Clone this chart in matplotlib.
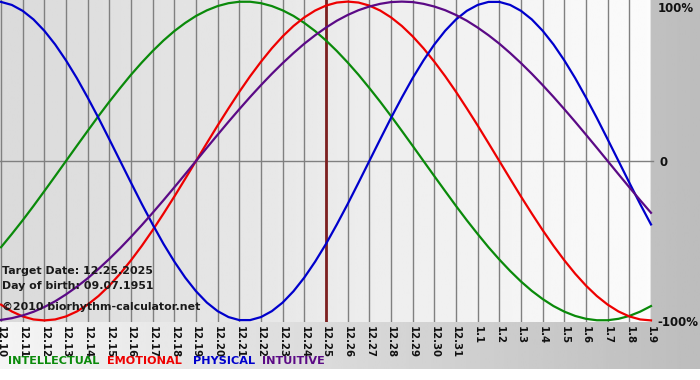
import matplotlib
matplotlib.use("Agg")
import matplotlib.pyplot as plt
import numpy as np

# day labels 12.10 .. 1.9
days = ["12.10", "12.11", "12.12", "12.13", "12.14", "12.15", "12.16", "12.17",
        "12.18", "12.19", "12.20", "12.21", "12.22", "12.23", "12.24", "12.25",
        "12.26", "12.27", "12.28", "12.29", "12.30", "12.31", "1.1", "1.2",
        "1.3", "1.4", "1.5", "1.6", "1.7", "1.8", "1.9"]

# cycle values (fraction of 100%) every half day
intellectual = [-0.541, -0.458, -0.372, -0.282, -0.189, -0.095,
                0.0, 0.095, 0.189, 0.282, 0.372, 0.458, 0.541, 0.618, 0.690, 0.756,
                0.815, 0.866, 0.910, 0.945, 0.972, 0.990, 0.999, 0.999, 0.990, 0.972,
                0.945, 0.910, 0.866, 0.815, 0.756, 0.690, 0.618, 0.541, 0.458, 0.372,
                0.282, 0.189, 0.095, 0.0, -0.095, -0.189, -0.282, -0.372, -0.458,
                -0.541, -0.618, -0.690, -0.756, -0.815, -0.866, -0.910, -0.945,
                -0.972, -0.990, -0.999, -0.999, -0.990, -0.972, -0.945, -0.910]
emotional = [-0.901, -0.944, -0.975, -0.994, -1.0, -0.994, -0.975, -0.944, -0.901,
             -0.847, -0.782, -0.707, -0.623, -0.532, -0.434, -0.330, -0.223, -0.112,
             0.0, 0.112, 0.223, 0.330, 0.434, 0.532, 0.623, 0.707, 0.782, 0.847,
             0.901, 0.944, 0.975, 0.994, 1.0, 0.994, 0.975, 0.944, 0.901, 0.847,
             0.782, 0.707, 0.623, 0.532, 0.434, 0.330, 0.223, 0.112, 0.0, -0.112,
             -0.223, -0.330, -0.434, -0.532, -0.623, -0.707, -0.782, -0.847, -0.901,
             -0.944, -0.975, -0.994, -1.0]
physical = [0.998, 0.979, 0.942, 0.888, 0.817, 0.731, 0.631, 0.520, 0.398, 0.270,
            0.136, 0.0, -0.136, -0.270, -0.398, -0.520, -0.631, -0.731, -0.817,
            -0.888, -0.942, -0.979, -0.998, -0.998, -0.979, -0.942, -0.888, -0.817,
            -0.731, -0.631, -0.520, -0.398, -0.270, -0.136,
            0.0, 0.136, 0.270, 0.398, 0.520, 0.631, 0.731, 0.817, 0.888, 0.942,
            0.979, 0.998, 0.998, 0.979, 0.942, 0.888, 0.817, 0.731, 0.631, 0.520,
            0.398, 0.270, 0.136, 0.0, -0.136, -0.270, -0.398]
intuitive = [-0.997, -0.986, -0.969, -0.946, -0.916, -0.880, -0.837, -0.789, -0.736,
             -0.677, -0.614, -0.547, -0.476, -0.402, -0.325, -0.246, -0.165, -0.083,
             0.0, 0.083, 0.165, 0.246, 0.325, 0.402, 0.476, 0.547, 0.614, 0.677,
             0.736, 0.789, 0.837, 0.880, 0.916, 0.946, 0.969, 0.986, 0.997, 1.0,
             0.997, 0.986, 0.969, 0.946, 0.916, 0.880, 0.837, 0.789, 0.736, 0.677,
             0.614, 0.547, 0.476, 0.402, 0.325, 0.246, 0.165, 0.083, 0.0, -0.083,
             -0.165, -0.246, -0.325]

target_idx = days.index("12.25")

W, H = 700, 380
fig = plt.figure(figsize=(W / 100, H / 100), dpi=100)

# outer gray gradient + white strip at the bottom
bg = fig.add_axes([0, 0, 1, 1])
bg.imshow(np.linspace(0.96, 0.74, 256)[None, :], cmap="gray", vmin=0, vmax=1,
          aspect="auto", extent=[0, W, 0, H])
bg.add_patch(plt.Rectangle((0, 0), W, H - 369, color="white", lw=0))
bg.set_xlim(0, W)
bg.set_ylim(0, H)
bg.axis("off")

# plot area: x 0..651 px, y 0..322 px
ax = fig.add_axes([0, (H - 322) / H, 651 / W, 322 / H])
x = np.arange(len(days))
xs = np.arange(len(physical)) * 0.5  # half-day sample positions
ax.set_xlim(-1 / 21.67, len(days) - 1)
ax.set_ylim(-1.01, 1.01)
ax.imshow(np.linspace(0.855, 0.985, 256)[None, :], cmap="gray", vmin=0, vmax=1,
          aspect="auto", extent=[ax.get_xlim()[0], ax.get_xlim()[1], -1.01, 1.01],
          zorder=0)

for xi in x:
    ax.axvline(xi, color="#808080", lw=1, zorder=1)
ax.axhline(0, color="#808080", lw=1, zorder=1, clip_on=False, xmax=1.003)

ax.axvline(target_idx, color="#7d2020", lw=2, zorder=2)

ax.plot(xs, intellectual, color="#0a8a0a", lw=1.6, zorder=3, clip_on=False)
ax.plot(xs, emotional, color="#ee0000", lw=1.6, zorder=3, clip_on=False)
ax.plot(xs, physical, color="#0000cc", lw=1.6, zorder=3, clip_on=False)
ax.plot(xs, intuitive, color="#5b0a86", lw=1.6, zorder=3, clip_on=False)

ax.set_xticks(x)
ax.set_xticklabels(days, rotation=-90, fontsize=7.3, fontweight="bold", color="#111111")
ax.tick_params(axis="x", length=0, pad=3)
ax.set_yticks([])
for s in ax.spines.values():
    s.set_visible(False)

# right-hand scale labels, placed in pixel rows
lab = dict(fontsize=8.5, fontweight="bold", color="#111111", ha="left", va="center")
fig.text(658 / W, 1 - 8 / H, "100%", **lab)
fig.text(659 / W, 1 - 162 / H, "0", **lab)
fig.text(657 / W, 1 - 322 / H, "-100%", **lab)

info = dict(fontsize=7.9, fontweight="bold", color="#1a1a1a", ha="left", va="center")
fig.text(2 / W, 1 - 271 / H, "Target Date: 12.25.2025", **info)
fig.text(2 / W, 1 - 286 / H, "Day of birth: 09.07.1951", **info)
fig.text(2 / W, 1 - 307 / H, "\u00a92010 biorhythm-calculator.net", **info)

leg = dict(fontsize=8.1, fontweight="bold", ha="left", va="center")
ly = 1 - 361 / H
fig.text(8 / W, ly, "INTELLECTUAL", color="#0a8a0a", **leg)
fig.text(107 / W, ly, "EMOTIONAL", color="#ee0000", **leg)
fig.text(193 / W, ly, "PHYSICAL", color="#0000cc", **leg)
fig.text(262 / W, ly, "INTUITIVE", color="#5b0a86", **leg)

fig.savefig("out.png", dpi=100)
